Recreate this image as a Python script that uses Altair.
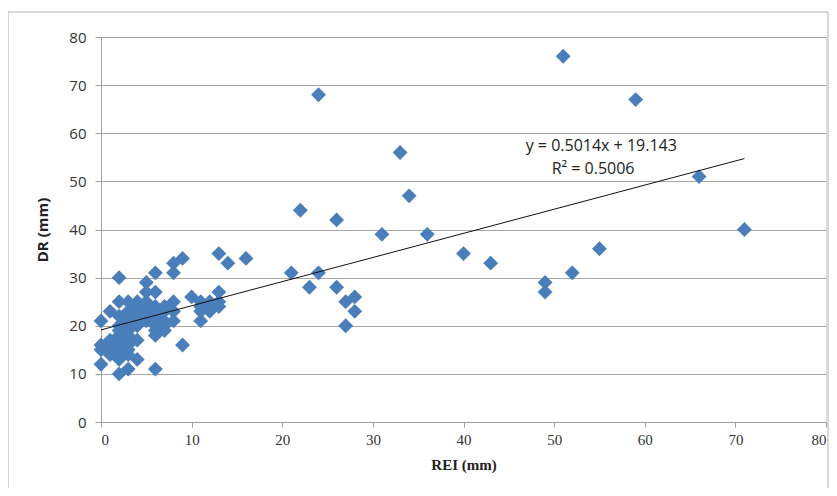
import altair as alt
import pandas as pd

rei = [
    0, 0, 0, 0,
    1, 1, 1, 1, 1,
    2, 2, 2, 2, 2, 2, 2, 2, 2, 2, 2,
    3, 3, 3, 3, 3, 3, 3, 3, 3,
    4, 4, 4, 4, 4, 4,
    5, 5, 5, 5, 5,
    6, 6, 6, 6, 6, 6, 6, 6,
    7, 7, 7, 7, 7,
    8, 8, 8, 8, 8,
    9, 9,
    10,
    11, 11, 11, 11,
    12, 12,
    13, 13, 13, 13,
    14, 16,
    21, 22, 23, 24, 24, 26, 26, 27, 27, 28, 28,
    31, 33, 34, 36, 40, 43, 49, 49, 51, 52, 55, 59, 66, 71,
]
dr = [
    21, 16, 15, 12,
    23, 17, 16, 15, 14,
    30, 25, 22, 20, 19, 18, 17, 16, 15, 13, 10,
    25, 23, 21, 19, 18, 16, 15, 14, 11,
    25, 24, 22, 20, 17, 13,
    29, 27, 25, 23, 21,
    31, 27, 24, 22, 20, 19, 18, 11,
    24, 23, 21, 20, 19,
    33, 31, 25, 23, 21,
    34, 16,
    26,
    25, 24, 23, 21,
    25, 23,
    35, 27, 25, 24,
    33, 34,
    31, 44, 28, 68, 31, 42, 28, 25, 20, 26, 23,
    39, 56, 47, 39, 35, 33, 29, 27, 76, 31, 36, 67, 51, 40,
]

# trendline reported on the chart
slope = 0.5014
intercept = 19.143
trend_x = [0, 71]

eq_text = ["y = 0.5014x + 19.143", "R² = 0.5006"]
eq_x = [55.2, 54.3]
eq_y = [57.3, 52.5]

pts = pd.DataFrame({"REI": rei, "DR": dr})
trend = pd.DataFrame({"REI": trend_x, "DR": [slope * v + intercept for v in trend_x]})
eq = pd.DataFrame({"t": eq_text, "x": eq_x, "y": eq_y})

xs = alt.Scale(domain=[0, 80], nice=False)
ys = alt.Scale(domain=[0, 80], nice=False)

frame = alt.Chart(pd.DataFrame({"a": [0]})).mark_rect(
    fill=None, stroke="#b0b0b0", strokeWidth=1, clip=False
).encode(
    x=alt.value(-93), x2=alt.value(727), y=alt.value(-25), y2=alt.value(460)
)

points = alt.Chart(pts).mark_point(
    shape="diamond", filled=True, size=220, color="#4a7ebb", opacity=1, strokeWidth=0
).encode(
    x=alt.X("REI:Q", scale=xs, title="REI (mm)",
            axis=alt.Axis(values=list(range(0, 81, 10)), grid=False, tickSize=5,
                          labelFont="Liberation Sans Narrow", labelFontSize=15,
                          labelColor="#333333", labelPadding=5,
                          titleFont="Liberation Sans Narrow", titleFontSize=15,
                          titleFontWeight="bold", titleColor="#222222", titlePadding=10,
                          domainColor="#a0a0a0", tickColor="#a0a0a0")),
    y=alt.Y("DR:Q", scale=ys, title="DR (mm)",
            axis=alt.Axis(values=list(range(0, 81, 10)), grid=True, gridColor="#a6a6a6",
                          tickSize=6, labelFont="Open Sans", labelFontSize=15,
                          labelColor="#333333", labelPadding=9,
                          titleFont="Open Sans", titleFontSize=15, titleFontWeight="bold",
                          titleColor="#222222", titlePadding=18,
                          domainColor="#a0a0a0", tickColor="#a0a0a0")),
)

line = alt.Chart(trend).mark_line(color="#111111", strokeWidth=1).encode(
    x=alt.X("REI:Q", scale=xs), y=alt.Y("DR:Q", scale=ys)
)

text = alt.Chart(eq).mark_text(font="Open Sans", fontSize=16, color="#222222").encode(
    x=alt.X("x:Q", scale=xs), y=alt.Y("y:Q", scale=ys), text="t:N"
)

chart = alt.layer(frame, points, line, text).properties(
    width=725, height=385,
    autosize=alt.AutoSizeParams(type="none"),
    padding={"left": 93, "top": 29, "right": 3, "bottom": 66},
).configure_view(stroke=None).configure(background="white")

chart.save("out.html", embed_options={"renderer": "svg", "actions": False})
